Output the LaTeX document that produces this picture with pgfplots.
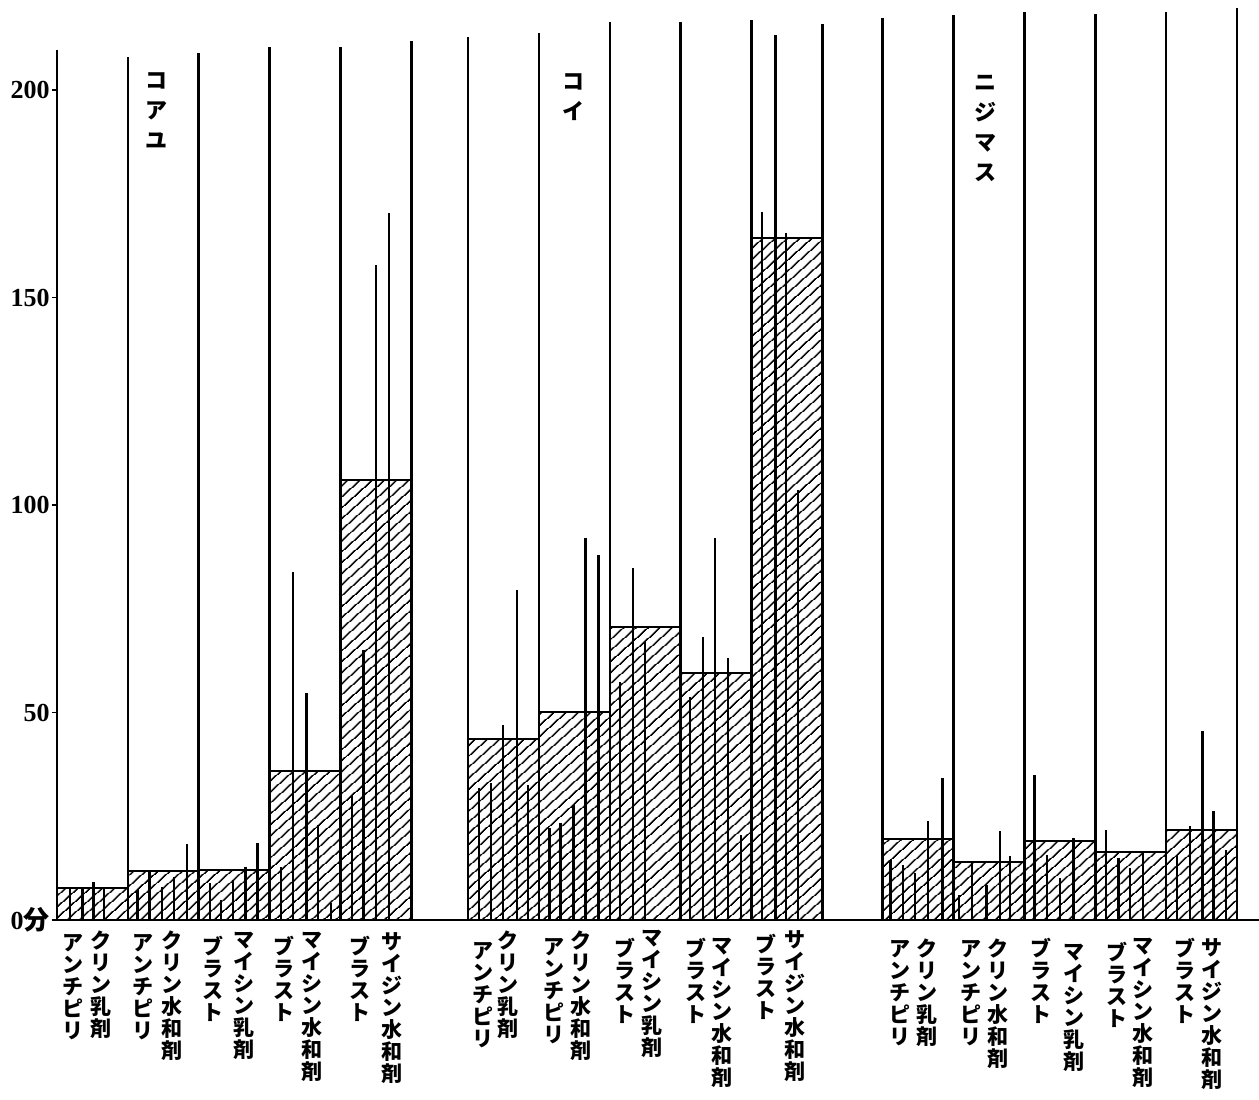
\documentclass[border=0pt]{standalone}
\usepackage{fontspec}
\setmainfont{Liberation Serif}
\newfontfamily\cjk{Noto Sans CJK JP}
\usepackage{pgfplots}
\pgfplotsset{compat=1.18}
\usetikzlibrary{patterns.meta}
\tikzset{
 lab/.style={anchor=north, inner sep=0pt, align=center, font=\cjk\bfseries\fontsize{10.5}{11}\selectfont},
 gname/.style={anchor=north, inner sep=0pt, align=center, font=\cjk\bfseries\fontsize{11}{15}\selectfont},
}
\begin{document}
\begin{tikzpicture}
\path[use as bounding box] (0,0) rectangle (629.5pt,549.5pt);
\begin{axis}[
 at={(28.5pt,89.5pt)}, anchor=south west,
 scale only axis, width=601pt, height=434.92pt,
 xmin=0, xmax=16.96, ymin=0, ymax=209.6,
 axis x line=bottom, axis y line=left,
 axis line style={-, line width=1pt},
 xtick=\empty,
 ytick={0,50,100,150,200},
 yticklabels={0{\cjk\bfseries 分},50,100,150,200},
 tick align=outside, major tick length=2.5pt,
 tick style={line width=0.8pt, black},
 yticklabel style={font=\fontsize{13}{13}\selectfont\bfseries, inner sep=1pt},
 clip=false,
]
% mean bars
\addplot[ybar, bar width=1, bar shift=0, draw=black, line width=0.9pt,
  pattern={Lines[angle=42, distance=4pt, line width=0.85pt]}, pattern color=black]
 coordinates {(0.5,7.7) (1.5,11.8) (2.5,12.0) (3.5,35.9) (4.5,106.0)
              (6.3,43.6) (7.3,50.1) (8.3,70.6) (9.3,59.5) (10.3,164.3)
              (12.15,19.5) (13.15,14.0) (14.15,19.0) (15.15,16.4) (16.15,21.7)};
% individual lines
\addplot[ycomb, black, line width=1.15pt, mark=none] coordinates {
 (0.187,7.7)(0.359,7.7)(0.517,9.2)(0.661,7.7)
 (1.135,7.2)(1.307,11.8)(1.480,8.0)(1.652,10.4)(1.839,18.3)
 (2.155,8.9)(2.313,4.8)(2.486,9.6)(2.658,12.8)(2.830,18.6)
 (3.161,12.8)(3.333,83.9)(3.520,54.7)(3.678,22.9)(3.865,4.1)
 (4.167,30.1)(4.325,65.1)(4.497,157.8)(4.684,170.4)
 (5.956,31.8)(6.126,33.0)(6.296,47.0)(6.494,79.5)(6.650,32.5)
 (6.947,22.2)(7.103,23.4)(7.287,27.7)(7.457,92.0)(7.641,88.0)
 (7.939,57.3)(8.123,84.8)(8.293,67.0)
 (8.930,53.7)(9.114,68.2)(9.284,92.0)(9.468,63.1)(9.653,20.5)
 (9.950,170.6)(10.290,165.5)(10.460,103.6)
 (11.760,14.5)(11.940,13.3)(12.106,11.3)(12.285,23.9)(12.493,34.2)
 (12.727,6.0)(12.907,13.7)(13.114,8.4)(13.307,21.4)(13.446,15.4)
 (13.791,35.0)(13.970,15.7)(14.150,10.1)(14.343,19.8)
 (14.799,21.7)(14.977,15.0)(15.143,12.5)(15.323,16.6)
 (15.806,15.7)(15.985,22.7)(16.164,45.5)(16.316,26.3)(16.496,16.9)
};
% tall separators
\addplot[ycomb, black, line width=1.3pt, mark=none] coordinates {
 (0,209.6)(1,208)(2,208.9)(3,210.4)(4,210.4)(5,211.8)
 (5.8,212.8)(6.8,213.7)(7.8,216.4)(8.8,216.4)(9.8,216.9)(10.134,213.3)(10.8,216)
 (11.65,217.3)(12.65,218)(13.65,218.8)(14.65,218.3)(15.65,218.8)(16.65,219.8)
};
% group names
\node[gname] at (axis cs:1.41,204.3) {コ\\ア\\ユ};
\node[gname] at (axis cs:7.29,204) {コ\\イ};
\node[gname] at (axis cs:13.10,203.6) {ニ\\ジ\\マ\\ス};
% group 1 labels
\node[lab, yshift=-7pt] at (axis cs:0.22,0) {ア\\ン\\チ\\ピ\\リ};
\node[lab, yshift=-5pt] at (axis cs:0.62,0) {ク\\リ\\ン\\乳\\剤};
\node[lab, yshift=-7pt] at (axis cs:1.22,0) {ア\\ン\\チ\\ピ\\リ};
\node[lab, yshift=-5pt] at (axis cs:1.62,0) {ク\\リ\\ン\\水\\和\\剤};
\node[lab, yshift=-8pt] at (axis cs:2.20,0) {ブ\\ラ\\ス\\ト};
\node[lab, yshift=-6pt] at (axis cs:2.64,0) {マ\\イ\\シ\\ン\\乳\\剤};
\node[lab, yshift=-8pt] at (axis cs:3.20,0) {ブ\\ラ\\ス\\ト};
\node[lab, yshift=-6pt] at (axis cs:3.60,0) {マ\\イ\\シ\\ン\\水\\和\\剤};
\node[lab, yshift=-8pt] at (axis cs:4.28,0) {ブ\\ラ\\ス\\ト};
\node[lab, yshift=-6pt] at (axis cs:4.72,0) {サ\\イ\\ジ\\ン\\水\\和\\剤};
% group 2 labels
\node[lab, yshift=-11pt] at (axis cs:6.01,0) {ア\\ン\\チ\\ピ\\リ};
\node[lab, yshift=-5pt] at (axis cs:6.37,0) {ク\\リ\\ン\\乳\\剤};
\node[lab, yshift=-9pt] at (axis cs:7.01,0) {ア\\ン\\チ\\ピ\\リ};
\node[lab, yshift=-5pt] at (axis cs:7.39,0) {ク\\リ\\ン\\水\\和\\剤};
\node[lab, yshift=-9pt] at (axis cs:8.01,0) {ブ\\ラ\\ス\\ト};
\node[lab, yshift=-5pt] at (axis cs:8.39,0) {マ\\イ\\シ\\ン\\乳\\剤};
\node[lab, yshift=-9pt] at (axis cs:9.01,0) {ブ\\ラ\\ス\\ト};
\node[lab, yshift=-9pt] at (axis cs:9.39,0) {マ\\イ\\シ\\ン\\水\\和\\剤};
\node[lab, yshift=-7pt] at (axis cs:10.01,0) {ブ\\ラ\\ス\\ト};
\node[lab, yshift=-5pt] at (axis cs:10.41,0) {サ\\イ\\ジ\\ン\\水\\和\\剤};
% group 3 labels
\node[lab, yshift=-10pt] at (axis cs:11.90,0) {ア\\ン\\チ\\ピ\\リ};
\node[lab, yshift=-9pt] at (axis cs:12.28,0) {ク\\リ\\ン\\乳\\剤};
\node[lab, yshift=-10pt] at (axis cs:12.90,0) {ア\\ン\\チ\\ピ\\リ};
\node[lab, yshift=-9pt] at (axis cs:13.28,0) {ク\\リ\\ン\\水\\和\\剤};
\node[lab, yshift=-9pt] at (axis cs:13.88,0) {ブ\\ラ\\ス\\ト};
\node[lab, yshift=-12pt] at (axis cs:14.35,0) {マ\\イ\\シ\\ン\\乳\\剤};
\node[lab, yshift=-11pt] at (axis cs:14.95,0) {ブ\\ラ\\ス\\ト};
\node[lab, yshift=-9pt] at (axis cs:15.33,0) {マ\\イ\\シ\\ン\\水\\和\\剤};
\node[lab, yshift=-9pt] at (axis cs:15.92,0) {ブ\\ラ\\ス\\ト};
\node[lab, yshift=-9pt] at (axis cs:16.30,0) {サ\\イ\\ジ\\ン\\水\\和\\剤};
\end{axis}
\end{tikzpicture}
\end{document}
